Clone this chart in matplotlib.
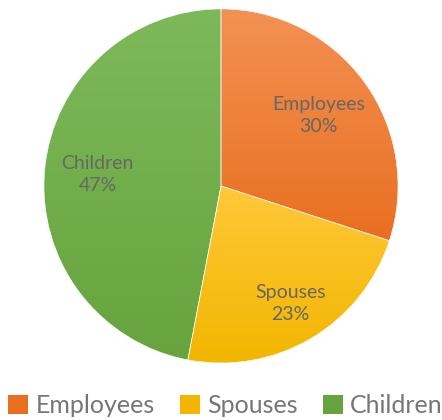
import numpy as np
import matplotlib.pyplot as plt
from matplotlib.colors import LinearSegmentedColormap
from matplotlib.patches import Patch

plt.rcParams["font.family"] = ["Lato", "DejaVu Sans"]

# ---- data ----
categories = ["Employees", "Spouses", "Children"]
shares = [30, 23, 47]
top_colors = ["#F39153", "#FFC83A", "#7DB95A"]
bottom_colors = ["#E96F20", "#F2B600", "#67A43E"]
label_dist = [0.68, 0.77, 0.70]

fig = plt.figure(figsize=(4.42, 4.20), dpi=100)
ax = fig.add_axes([0.0995, 0.1357, 0.801, 0.843])

wedges, _ = ax.pie(shares, startangle=90, counterclock=False, radius=1,
                   wedgeprops=dict(edgecolor="white", linewidth=0.4))

# vertical gradient inside each slice
grad = np.linspace(0, 1, 256).reshape(-1, 1)
for w, c_top, c_bot in zip(wedges, top_colors, bottom_colors):
    w.set_facecolor("none")
    cmap = LinearSegmentedColormap.from_list("g", [c_top, c_bot])
    bb = w.get_path().get_extents(w.get_patch_transform())
    im = ax.imshow(grad, cmap=cmap, aspect="auto", origin="upper",
                   extent=[bb.x0, bb.x1, bb.y0, bb.y1], zorder=0.5)
    im.set_clip_path(w)

# slice labels
for w, name, val, d in zip(wedges, categories, shares, label_dist):
    ang = np.deg2rad((w.theta1 + w.theta2) / 2)
    ax.text(d * np.cos(ang), d * np.sin(ang), f"{name}\n{val}%",
            ha="center", va="center", fontsize=14, color="#666666",
            linespacing=1.35)

ax.set_xlim(-1, 1)
ax.set_ylim(-1, 1)
ax.set_aspect("auto")
ax.axis("off")

handles = [Patch(facecolor=c, edgecolor="none") for c in bottom_colors]
fig.legend(handles, categories, loc="center", bbox_to_anchor=(0.51, 0.034),
           ncol=3, frameon=False, fontsize=18, labelcolor="#767676",
           handlelength=0.8, handleheight=0.8, handletextpad=0.3,
           columnspacing=1.0, borderpad=0, borderaxespad=0)

fig.savefig("out.png", dpi=100)
